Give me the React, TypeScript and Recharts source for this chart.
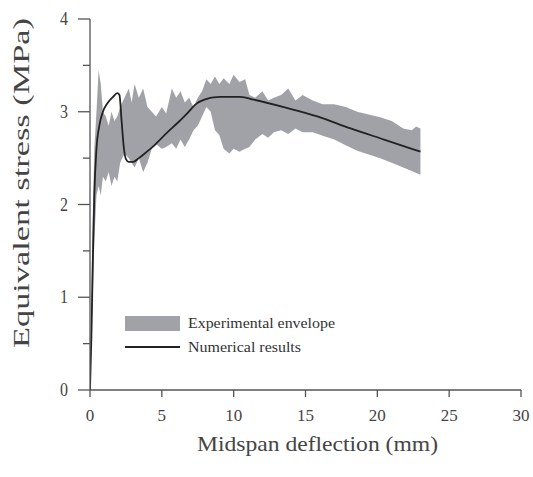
import React from 'react';
import { ComposedChart, Area, Line, XAxis, YAxis } from 'recharts';

// Experimental envelope (midspan deflection in mm, lower/upper stress in MPa)
const envX = [0, 0.15, 0.3, 0.45, 0.6, 0.75, 0.9, 1.1, 1.3, 1.5, 1.7, 1.9, 2.1, 2.4, 2.7, 2.9, 3.1, 3.4, 3.7, 4.0, 4.3, 4.6, 5.0, 5.3, 5.7, 6.0, 6.3, 6.6, 6.9, 7.2, 7.5, 7.8, 8.1, 8.4, 8.7, 9.0, 9.3, 9.7, 10.0, 10.4, 10.8, 11.1, 11.5, 12.0, 12.4, 12.8, 13.3, 13.8, 14.3, 14.8, 15.5, 16.2, 17.0, 17.8, 18.6, 19.4, 20.2, 21.0, 21.8, 22.4, 22.7, 23.0];
const envLow = [0, 0.8, 1.6, 2.1, 2.2, 2.1, 2.3, 2.25, 2.35, 2.2, 2.3, 2.25, 2.45, 2.55, 2.5, 2.45, 2.4, 2.5, 2.35, 2.45, 2.6, 2.65, 2.6, 2.62, 2.66, 2.6, 2.7, 2.62, 2.7, 2.8, 2.85, 2.95, 3.05, 3.0, 2.8, 2.75, 2.6, 2.55, 2.6, 2.57, 2.6, 2.62, 2.7, 2.76, 2.72, 2.78, 2.8, 2.76, 2.82, 2.78, 2.78, 2.74, 2.7, 2.64, 2.58, 2.54, 2.5, 2.45, 2.4, 2.36, 2.34, 2.32];
const envHigh = [0, 1.6, 2.6, 3.0, 3.45, 3.3, 3.0, 2.95, 2.85, 3.0, 2.9, 2.95, 3.05, 3.15, 3.25, 3.1, 3.3, 3.15, 3.25, 3.05, 3.0, 2.95, 3.05, 2.98, 3.25, 3.15, 3.22, 3.1, 3.15, 3.05, 3.15, 3.22, 3.35, 3.3, 3.38, 3.3, 3.36, 3.3, 3.4, 3.32, 3.35, 3.18, 3.15, 3.22, 3.12, 3.15, 3.18, 3.25, 3.12, 3.18, 3.12, 3.08, 3.08, 3.05, 3.0, 2.97, 2.94, 2.9, 2.82, 2.8, 2.84, 2.82];

// Numerical results
const numX = [0, 0.1, 0.2, 0.3, 0.45, 0.65, 0.9, 1.2, 1.6, 1.9, 2.05, 2.2, 2.35, 2.5, 2.7, 3.0, 3.4, 3.96, 4.5, 4.88, 5.4, 5.81, 6.3, 6.75, 7.1, 7.44, 7.8, 8.14, 8.6, 9.07, 10.47, 11.4, 13.49, 15.82, 18.14, 20.47, 23.0];
const numY = [0, 0.6, 1.4, 2.1, 2.6, 2.85, 3.0, 3.09, 3.16, 3.2, 3.18, 2.9, 2.62, 2.49, 2.46, 2.46, 2.5, 2.57, 2.64, 2.7, 2.78, 2.84, 2.91, 2.98, 3.04, 3.09, 3.12, 3.14, 3.155, 3.16, 3.16, 3.13, 3.05, 2.95, 2.82, 2.7, 2.57];

const xTicks = [0, 5, 10, 15, 20, 25, 30];
const yTicks = [0, 0.5, 1, 1.5, 2, 2.5, 3, 3.5, 4];

const xLabel = 'Midspan deflection (mm)';
const yLabel = 'Equivalent stress (MPa)';
const legendEnvelope = 'Experimental envelope';
const legendNumerical = 'Numerical results';

const envData = envX.map((x, i) => ({ x, range: [envLow[i], envHigh[i]] }));
const numData = numX.map((x, i) => ({ x, y: numY[i] }));

const FONT = 'Times New Roman, Times, Liberation Serif, serif';
const TEXT = '#444';
const AXIS = '#555';
const FILL = '#a0a2a8';

const YTick = (props: any) => {
  const { x, y, payload } = props;
  const major = Number.isInteger(payload.value);
  return (
    <g>
      <line x1={x - (major ? 12 : 7)} y1={y} x2={x} y2={y} stroke={AXIS} strokeWidth={1.3} />
      {major && (
        <text
          transform={`translate(${x - 22},${y + 6}) scale(1,1.2)`}
          textAnchor="end"
          fontFamily={FONT}
          fontSize={16}
          fill={TEXT}
        >
          {payload.value}
        </text>
      )}
    </g>
  );
};

const XTick = (props: any) => {
  const { x, y, payload } = props;
  return (
    <g>
      <line x1={x} y1={y} x2={x} y2={y + 7} stroke={AXIS} strokeWidth={1.3} />
      <text x={x} y={y + 31} textAnchor="middle" fontFamily={FONT} fontSize={17} fill={TEXT}>
        {payload.value}
      </text>
    </g>
  );
};

export default function App() {
  return (
    <div style={{ position: 'absolute', left: 0, top: 0, width: 533, height: 477, background: '#fff' }}>
      <ComposedChart width={533} height={477} margin={{ top: 19, right: 12, bottom: 27, left: 0 }}>
        <XAxis
          type="number"
          dataKey="x"
          domain={[0, 30]}
          ticks={xTicks}
          allowDataOverflow
          height={60}
          tickSize={0}
          tickMargin={0}
          tickLine={false}
          tick={<XTick />}
          axisLine={{ stroke: AXIS, strokeWidth: 1.3 }}
        />
        <YAxis
          type="number"
          domain={[0, 4]}
          ticks={yTicks}
          width={90}
          tickSize={0}
          tickMargin={0}
          tickLine={false}
          tick={<YTick />}
          axisLine={{ stroke: AXIS, strokeWidth: 1.3 }}
          interval={0}
        />
        <Area
          data={envData}
          dataKey="range"
          type="linear"
          stroke="none"
          fill={FILL}
          fillOpacity={1}
          isAnimationActive={false}
        />
        <Line
          data={numData}
          dataKey="y"
          type="monotone"
          stroke="#222"
          strokeWidth={1.8}
          dot={false}
          isAnimationActive={false}
        />
        <g>
          <rect x={125} y={316} width={55} height={15} fill={FILL} />
          <line x1={125} y1={347} x2={180} y2={347} stroke="#222" strokeWidth={2} />
          <text x={188} y={328} fontFamily={FONT} fontSize={15} fill="#333" textLength={147} lengthAdjust="spacingAndGlyphs">
            {legendEnvelope}
          </text>
          <text x={188} y={352} fontFamily={FONT} fontSize={15} fill="#333" textLength={113} lengthAdjust="spacingAndGlyphs">
            {legendNumerical}
          </text>
        </g>
        <text x={197} y={451} fontFamily={FONT} fontSize={22} fill={TEXT} textLength={241} lengthAdjust="spacingAndGlyphs">
          {xLabel}
        </text>
        <text
          transform="translate(29,348) rotate(-90)"
          fontFamily={FONT}
          fontSize={23}
          fill={TEXT}
          textLength={330}
          lengthAdjust="spacingAndGlyphs"
        >
          {yLabel}
        </text>
      </ComposedChart>
    </div>
  );
}
